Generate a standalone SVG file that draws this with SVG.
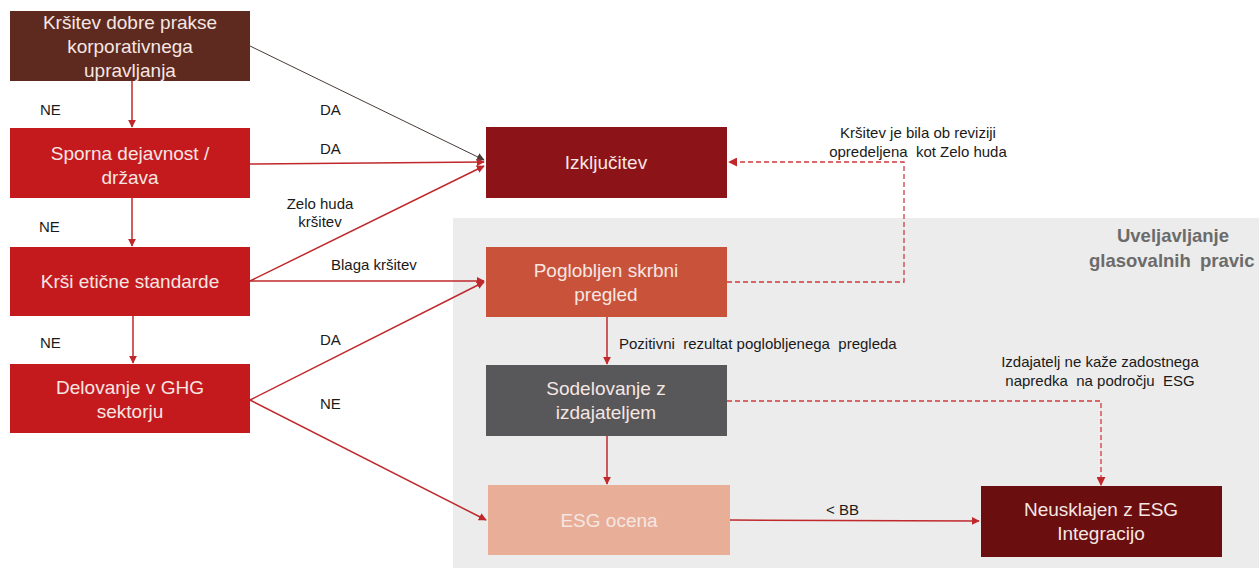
<svg xmlns="http://www.w3.org/2000/svg" width="1259" height="568" viewBox="0 0 1259 568">
<style>
.bt{font-family:"Liberation Sans",Arial,sans-serif;font-size:19px;fill:#f6e6e2;text-anchor:middle}
.lb{font-family:"Liberation Sans",Arial,sans-serif;font-size:15px;fill:#1a1a1a}
.lc{font-family:"Liberation Sans",Arial,sans-serif;font-size:15px;fill:#1a1a1a;text-anchor:middle}
.red{stroke:#c0282c;stroke-width:1.5;fill:none}
.dash{stroke:#d03a3e;stroke-width:1.3;fill:none;stroke-dasharray:5 3}
.hd{font-family:"Liberation Sans",Arial,sans-serif;font-size:18.5px;font-weight:bold;fill:#6b6b6b}
</style>
<defs>
<marker id="ar" viewBox="0 0 10 10" refX="9" refY="5" markerWidth="8" markerHeight="8" orient="auto" markerUnits="userSpaceOnUse"><path d="M0,0 L10,5 L0,10 z" fill="#c0282c"/></marker>
<marker id="ag" viewBox="0 0 10 10" refX="9" refY="5" markerWidth="8" markerHeight="8" orient="auto" markerUnits="userSpaceOnUse"><path d="M0,0 L10,5 L0,10 z" fill="#4a3a38"/></marker>
<marker id="ad" viewBox="0 0 10 10" refX="9" refY="5" markerWidth="9" markerHeight="9" orient="auto" markerUnits="userSpaceOnUse"><path d="M0,0 L10,5 L0,10 z" fill="#c0282c"/></marker>
</defs>
<rect width="1259" height="568" fill="#ffffff"/>
<rect id="panel" x="453" y="218" width="806" height="350" fill="#ececec"/>
<text class="hd" x="1173" y="242" text-anchor="middle">Uveljavljanje</text>
<text class="hd" x="1089" y="267" word-spacing="4">glasovalnih pravic</text>

<g id="connectors">
<line x1="250" y1="46" x2="484" y2="160" stroke="#4a3a38" stroke-width="1" marker-end="url(#ag)"/>
<line class="red" x1="250" y1="164" x2="484" y2="162" marker-end="url(#ar)"/>
<line class="red" x1="250" y1="281" x2="484" y2="166" marker-end="url(#ar)"/>
<line class="red" x1="250" y1="281" x2="484" y2="281" marker-end="url(#ar)"/>
<line class="red" x1="250" y1="400" x2="484" y2="282" marker-end="url(#ar)"/>
<line class="red" x1="250" y1="400" x2="486" y2="520" marker-end="url(#ar)"/>
<line class="red" x1="132" y1="81" x2="132" y2="127" marker-end="url(#ar)"/>
<line class="red" x1="132" y1="198" x2="132" y2="246" marker-end="url(#ar)"/>
<line class="red" x1="133" y1="316" x2="133" y2="363" marker-end="url(#ar)"/>
<line class="red" x1="607" y1="317" x2="607" y2="364" marker-end="url(#ar)"/>
<line class="red" x1="607" y1="436" x2="607" y2="484" marker-end="url(#ar)"/>
<line class="red" x1="730" y1="520" x2="979" y2="521" marker-end="url(#ar)"/>
<polyline class="dash" points="727,282 904,282 904,162 729,162" marker-end="url(#ad)"/>
<polyline class="dash" points="727,401 1101,401 1101,485" marker-end="url(#ad)"/>
<text class="lb" x="40" y="115">NE</text>
<text class="lb" x="320" y="115">DA</text>
<text class="lb" x="320" y="154">DA</text>
<text class="lb" x="39" y="232">NE</text>
<text class="lc" x="320" y="209">Zelo huda</text>
<text class="lc" x="320" y="227">kršitev</text>
<text class="lb" x="331" y="270">Blaga kršitev</text>
<text class="lb" x="40" y="348">NE</text>
<text class="lb" x="320" y="345">DA</text>
<text class="lb" x="320" y="409">NE</text>
<text class="lb" x="619" y="349" xml:space="preserve">Pozitivni  rezultat poglobljenega  pregleda</text>
<text class="lb" x="826" y="515">&lt; BB</text>
<text class="lc" x="918" y="138">Kršitev je bila ob reviziji</text>
<text class="lc" x="918" y="157" xml:space="preserve">opredeljena  kot Zelo huda</text>
<text class="lc" x="1100" y="367">Izdajatelj ne kaže zadostnega</text>
<text class="lc" x="1100" y="386" xml:space="preserve">napredka  na področju  ESG</text>
</g>

<g id="n1"><rect x="10" y="11" width="240" height="70" fill="#5e2a1f"/>
<text class="bt" x="130" y="29">Kršitev dobre prakse</text>
<text class="bt" x="130" y="53">korporativnega</text>
<text class="bt" x="130" y="77">upravljanja</text></g>
<g id="n2"><rect x="10" y="128" width="240" height="70" fill="#c41a1e"/>
<text class="bt" x="130" y="160">Sporna dejavnost  /</text>
<text class="bt" x="130" y="184">država</text></g>
<g id="n3"><rect x="10" y="247" width="240" height="69" fill="#c41a1e"/>
<text class="bt" x="130" y="288">Krši etične standarde</text></g>
<g id="n4"><rect x="10" y="364" width="240" height="69" fill="#c41a1e"/>
<text class="bt" x="130" y="394">Delovanje  v GHG</text>
<text class="bt" x="130" y="418">sektorju</text></g>
<g id="n5"><rect x="486" y="127" width="241" height="71" fill="#8c1418"/>
<text class="bt" x="606" y="169">Izključitev</text></g>
<g id="n6"><rect x="486" y="247" width="241" height="70" fill="#c9523b"/>
<text class="bt" x="606" y="277">Poglobljen  skrbni</text>
<text class="bt" x="606" y="301">pregled</text></g>
<g id="n7"><rect x="486" y="365" width="241" height="71" fill="#58585a"/>
<text class="bt" x="606" y="395" fill="#eeeeee">Sodelovanje  z</text>
<text class="bt" x="606" y="419" fill="#eeeeee">izdajateljem</text></g>
<g id="n8"><rect x="488" y="485" width="242" height="70" fill="#e8ae98"/>
<text class="bt" x="609" y="527" fill="#fbe6dc">ESG ocena</text></g>
<g id="n9"><rect x="981" y="486" width="241" height="71" fill="#6a0e10"/>
<text class="bt" x="1101" y="516">Neusklajen  z ESG</text>
<text class="bt" x="1101" y="540">Integracijo</text></g>
</svg>
